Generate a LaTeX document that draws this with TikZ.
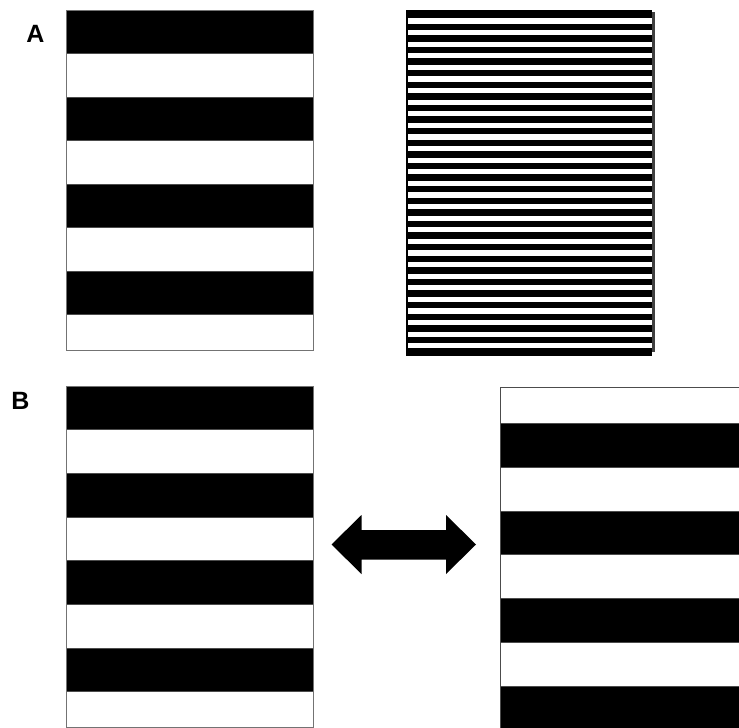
\documentclass[tikz,border=0pt]{standalone}
\usepackage{fontspec}
\setmainfont{Liberation Sans}
\begin{document}
\begin{tikzpicture}[x=1pt,y=-1pt,
  panelframe/.style={draw=black!55,line width=1pt},
  band/.style={fill=black,draw=black!70,line width=0.6pt},
  letter/.style={font=\fontsize{25}{30}\selectfont\bfseries,inner sep=0pt,anchor=center}]
\useasboundingbox (0,0) rectangle (739,728);
\fill[white] (0,0) rectangle (739,728);

% panel A, left: wide stripes
\foreach \k in {0,...,3}
  \path[band] (66,{10+87*\k}) rectangle (313,{10+87*\k+43.5});
\draw[panelframe] (66,10) rectangle (313,350);

% panel A, right: fine stripes
\fill[black] (406,10) rectangle (652,356);
\fill[black!75] (652,12) rectangle (654.5,352);
\foreach \k in {0,...,28}
  \fill[white] (407.5,{18.3+11.6*\k}) rectangle (651.5,{18.3+11.6*\k+5.2});

% panel B, left
\foreach \k in {0,...,3}
  \path[band] (66,{386+87.3*\k}) rectangle (313,{386+87.3*\k+43.6});
\draw[panelframe] (66,386) rectangle (313,727);

% panel B, right (shifted phase, runs off the edge)
\foreach \k in {0,...,3}
  \path[band] (500.5,{423.3+87.5*\k}) rectangle (745,{423.3+87.5*\k+43.8});
\draw[draw=black!70,line width=1.4pt] (500.5,735) -- (500.5,387.5) -- (745,387.5);

% double-headed arrow
\fill[black] (331.5,544.5) -- (361.5,515) -- (361.5,530) -- (446,530) -- (446,515)
  -- (476,544.5) -- (446,574) -- (446,559.5) -- (361.5,559.5) -- (361.5,574) -- cycle;

% panel labels
\node[letter] (labelA) at (35.5,33.5) {A};
\node[letter] (labelB) at (20.5,400.5) {B};
\end{tikzpicture}
\end{document}
